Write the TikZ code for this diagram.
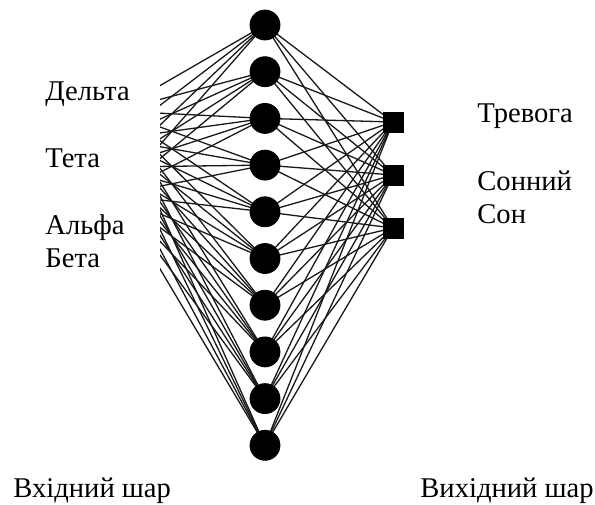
\documentclass[tikz,border=0pt]{standalone}
\usepackage{fontspec}
\setmainfont{Liberation Serif}
\usetikzlibrary{positioning}

\tikzset{
  hid/.style={draw,fill=black,shape=circle,inner sep=0pt,minimum size=15pt},
  outbox/.style={draw,fill=black,shape=rectangle,inner sep=0pt,minimum size=10pt},
  link/.style={line width=0.65pt,black!90},
  lbl/.style={anchor=base west,inner sep=0pt,font=\fontsize{14.3}{16}\selectfont}
}

\begin{document}
\begin{tikzpicture}[x=0.5pt,y=-0.5pt]
   \useasboundingbox (0,0) rectangle (595,504);
   % input side (cut off at the left edge)
   \coordinate (I1) at (116,111);
   \coordinate (I2) at (116,139);
   \coordinate (I3) at (116,167);
   \coordinate (I4) at (116,195);
   % hidden layer
   \foreach \i in {1,...,10}
     \coordinate (H\i) at (265,{25+46.7*(\i-1)});
   % output layer
   \coordinate (O1) at (393,122);
   \coordinate (O2) at (393,175);
   \coordinate (O3) at (393,228);
   \begin{scope}
     \clip (160,0) rectangle (595,504);
     \foreach \a in {1,...,4}
       \foreach \b in {1,...,10}
         \draw[link] (I\a) -- (H\b);
   \end{scope}
   \foreach \b in {1,...,10}
     \foreach \c in {1,2,3}
       \draw[link] (H\b) -- (O\c);
   \foreach \b in {1,...,10}
     \path (H\b) node[hid] (h\b) {};
   \foreach \c in {1,2,3}
     \path (O\c) node[outbox] (o\c) {};
   % labels
   \path (45,100) node[lbl] (delta) {Дельта};
   \path (45,167) node[lbl] (theta) {Тета};
   \path (45,234) node[lbl] (alpha) {Альфа};
   \path (45,267) node[lbl] (beta) {Бета};
   \path (477,122) node[lbl] (alarm) {Тревога};
   \path (477,190) node[lbl] (sleep) {Сонний};
   \path (477,223) node[lbl] (sleepb) {Сон};
   \path (13,497) node[lbl] (inlayer) {Вхідний шар};
   \path (420,497) node[lbl] (outlayer) {Вихідний шар};
\end{tikzpicture}
\end{document}
